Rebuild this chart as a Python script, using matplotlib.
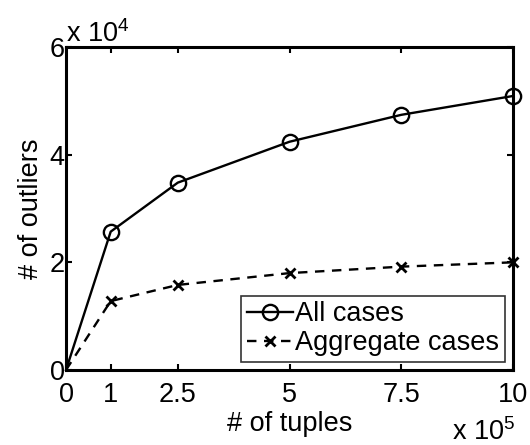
import matplotlib
matplotlib.use("Agg")
import matplotlib.pyplot as plt
from matplotlib.ticker import FixedLocator, FuncFormatter

plt.rcParams['font.family'] = ['Liberation Sans', 'DejaVu Sans']
plt.rcParams['mathtext.fontset'] = 'custom'
plt.rcParams['mathtext.rm'] = 'Liberation Sans'

tuples = [0, 100000, 250000, 500000, 750000, 1000000]
all_cases = [0, 25700, 34800, 42400, 47400, 50900]
aggregate_cases = [0, 12800, 15800, 18000, 19200, 20000]
x_ticks = [0, 100000, 250000, 500000, 750000, 1000000]
y_ticks = [0, 20000, 40000, 60000]

FS = 19.5
fig = plt.figure(figsize=(5.3, 4.45), dpi=100)
ax = fig.add_axes([66/530, 1-370/445, (513-66)/530, (370-47)/445])

ax.plot(tuples, all_cases, '-', color='black', lw=1.7, marker='o', markevery=slice(1, None),
        markersize=11, markerfacecolor='none', markeredgewidth=1.7, label='All cases', clip_on=False)
ax.plot(tuples, aggregate_cases, '--', color='black', lw=1.7, marker='x', markevery=slice(1, None),
        markersize=7, markeredgewidth=2, dashes=(4, 3.2), label='Aggregate cases', clip_on=False)

ax.set_xlim(0, 1000000)
ax.set_ylim(0, 60000)
ax.xaxis.set_major_locator(FixedLocator(x_ticks))
ax.yaxis.set_major_locator(FixedLocator(y_ticks))
ax.xaxis.set_major_formatter(FuncFormatter(lambda v, p: f"{v/1e5:g}"))
ax.yaxis.set_major_formatter(FuncFormatter(lambda v, p: f"{v/1e4:g}"))
ax.tick_params(direction='in', top=True, right=True, length=4, width=1.5,
               labelsize=FS)
ax.tick_params(axis='x', pad=9)
ax.tick_params(axis='y', pad=1)
for s in ax.spines.values():
    s.set_linewidth(2.2)

ax.set_xlabel('# of tuples', fontsize=FS, labelpad=2)
ax.set_ylabel('# of outliers', fontsize=FS, labelpad=4)

fig.text(66/530, 1-42/445, r'x $10^{4}$', fontsize=FS, ha='left', va='baseline')
fig.text(452/530, 1-440/445, r'x $10^{5}$', fontsize=FS, ha='left', va='baseline')

leg = ax.legend(loc='lower right', fontsize=FS, frameon=True, fancybox=False,
                edgecolor='black', handlelength=1.7, handletextpad=0.1,
                borderpad=0.2, labelspacing=0.12, borderaxespad=0.3)
leg.get_frame().set_linewidth(1.2)

fig.savefig('out.png', dpi=100)
